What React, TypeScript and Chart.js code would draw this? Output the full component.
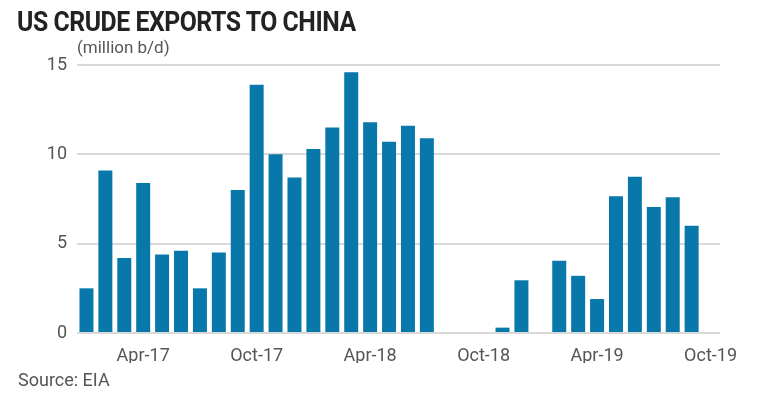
import React, { useEffect, useRef } from "react";
import { Chart, registerables } from "chart.js";

Chart.register(...registerables);

const months = [
  "Jan-17", "Feb-17", "Mar-17", "Apr-17", "May-17", "Jun-17", "Jul-17", "Aug-17", "Sep-17", "Oct-17", "Nov-17", "Dec-17",
  "Jan-18", "Feb-18", "Mar-18", "Apr-18", "May-18", "Jun-18", "Jul-18", "Aug-18", "Sep-18", "Oct-18", "Nov-18", "Dec-18",
  "Jan-19", "Feb-19", "Mar-19", "Apr-19", "May-19", "Jun-19", "Jul-19", "Aug-19", "Sep-19", "Oct-19",
];

const exports: (number | null)[] = [
  2.5, 9.1, 4.2, 8.4, 4.4, 4.6, 2.5, 4.5, 8.0, 13.9, 10.0, 8.7,
  10.3, 11.5, 14.6, 11.8, 10.7, 11.6, 10.9, 0, 0, 0, 0.3, 2.95,
  0, 4.05, 3.2, 1.9, 7.65, 8.75, 7.05, 7.6, 6.0, null,
];

const shownTicks = ["Apr-17", "Oct-17", "Apr-18", "Oct-18", "Apr-19", "Oct-19"];
const yTicks = [0, 5, 10, 15];

const title = "US CRUDE EXPORTS TO CHINA";
const unit = "(million b/d)";
const source = "Source: EIA";

const BAR = "#0878ab";
const GRID = "#dadada";
const TEXT = "#555555";

export default function App() {
  const ref = useRef<HTMLCanvasElement | null>(null);

  useEffect(() => {
    if (!ref.current) return;
    const chart = new Chart(ref.current, {
      type: "bar",
      data: {
        labels: months,
        datasets: [
          {
            data: exports,
            backgroundColor: BAR,
            borderWidth: 0,
            barPercentage: 0.74,
            categoryPercentage: 1,
          },
        ],
      },
      options: {
        responsive: false,
        animation: false,
        devicePixelRatio: 1,
        layout: { padding: { left: 0, top: 65, right: 43, bottom: 33 } },
        plugins: { legend: { display: false }, tooltip: { enabled: false }, title: { display: false } },
        scales: {
          x: {
            grid: { display: false },
            border: { display: false },
            ticks: {
              autoSkip: false,
              maxRotation: 0,
              minRotation: 0,
              padding: 5,
              color: TEXT,
              font: { family: "Roboto", size: 18 },
              callback: (_v: any, i: number) => (shownTicks.includes(months[i]) ? months[i] : ""),
            },
            afterFit: (s: any) => {
              s.height = 30;
            },
          },
          y: {
            min: 0,
            max: 15,
            afterBuildTicks: (s: any) => {
              s.ticks = yTicks.map((v) => ({ value: v }));
            },
            grid: { color: GRID, lineWidth: 2, drawTicks: false },
            border: { display: false },
            ticks: {
              padding: 10,
              color: TEXT,
              font: { family: "Roboto", size: 18 },
            },
            afterFit: (s: any) => {
              s.width = 77;
            },
          },
        },
      },
    });
    return () => chart.destroy();
  }, []);

  return (
    <div style={{ position: "fixed", left: 0, top: 0, width: 763, height: 396, background: "#fff", overflow: "hidden" }}>
      <canvas ref={ref} width={763} height={396} style={{ position: "absolute", left: 0, top: 0, width: 763, height: 396 }} />
      <div
        style={{
          position: "absolute",
          left: 17,
          top: 4,
          fontFamily: "'Roboto', sans-serif",
          fontWeight: 700,
          fontSize: 28,
          color: "#222",
          whiteSpace: "nowrap",
          transform: "scaleX(0.885)",
          transformOrigin: "left top",
          letterSpacing: -0.5,
          lineHeight: "36px",
        }}
      >
        {title}
      </div>
      <div
        style={{
          position: "absolute",
          left: 77,
          top: 36,
          fontFamily: "'Roboto', sans-serif",
          fontSize: 17,
          color: TEXT,
          lineHeight: "22px",
          whiteSpace: "nowrap",
        }}
      >
        {unit}
      </div>
      <div
        style={{
          position: "absolute",
          left: 18,
          top: 369,
          fontFamily: "'Roboto', sans-serif",
          fontSize: 18,
          color: TEXT,
          lineHeight: "22px",
          whiteSpace: "nowrap",
        }}
      >
        {source}
      </div>
    </div>
  );
}
